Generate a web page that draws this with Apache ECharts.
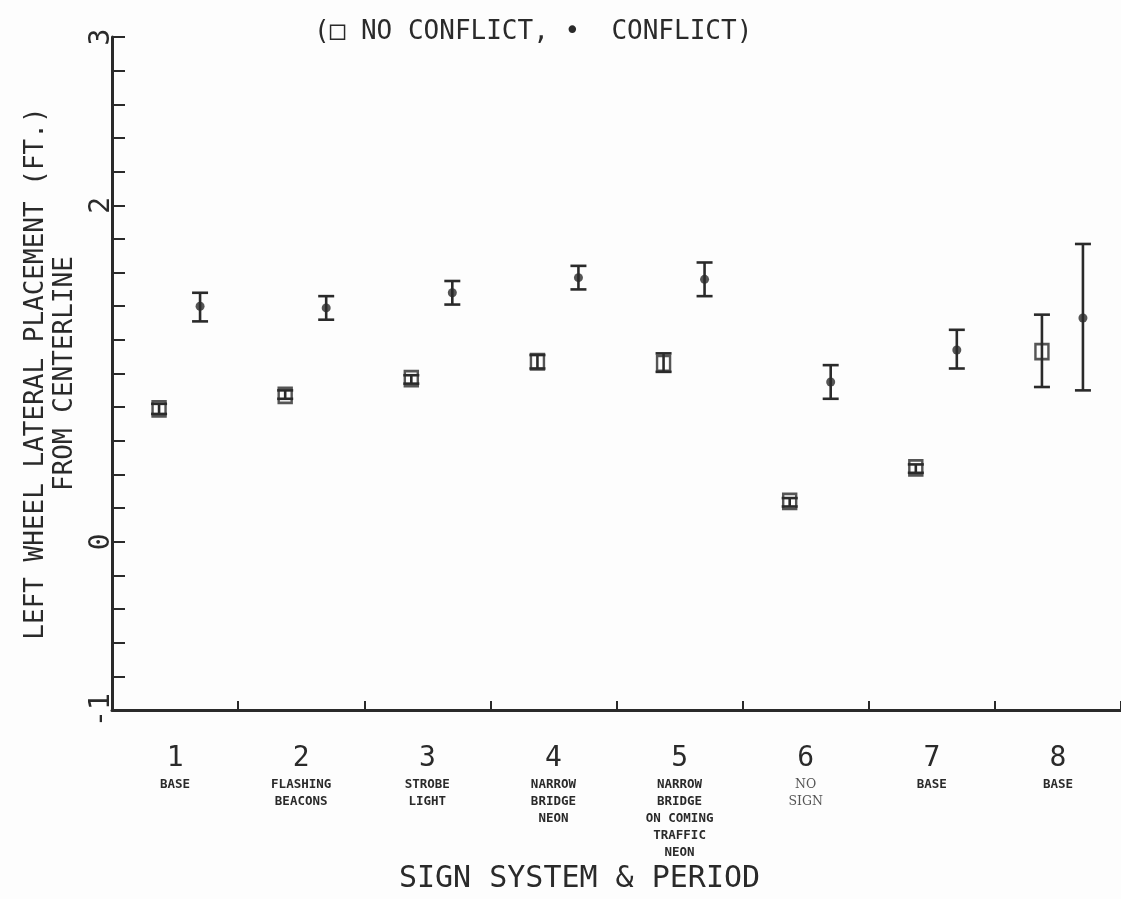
<!DOCTYPE html>
<html>
<head>
<meta charset="utf-8">
<script src="https://cdn.jsdelivr.net/npm/echarts@6/dist/echarts.min.js"></script>
<style>
  html, body { margin: 0; padding: 0; background: #fdfdfd; }
  #chart { width: 1121px; height: 899px; }
</style>
</head>
<body>
<div id="chart"></div>
<script>
// ---- data ----
const categories = ['1', '2', '3', '4', '5', '6', '7', '8'];
const signSystems = [
  'BASE',
  'FLASHING\nBEACONS',
  'STROBE\nLIGHT',
  'NARROW\nBRIDGE\nNEON',
  'NARROW\nBRIDGE\nON COMING\nTRAFFIC\nNEON',
  'NO\nSIGN',
  'BASE',
  'BASE'
];
// No conflict (open squares): mean, low, high (ft)
const noConflictMean = [0.79, 0.87, 0.97, 1.07, 1.06, 0.24, 0.44, 1.13];
const noConflictLow  = [0.76, 0.85, 0.94, 1.03, 1.01, 0.21, 0.41, 0.92];
const noConflictHigh = [0.82, 0.90, 0.99, 1.11, 1.12, 0.26, 0.46, 1.35];
// Conflict (filled dots): mean, low, high (ft)
const conflictMean = [1.40, 1.39, 1.48, 1.57, 1.56, 0.95, 1.14, 1.33];
const conflictLow  = [1.31, 1.32, 1.41, 1.50, 1.46, 0.85, 1.03, 0.90];
const conflictHigh = [1.48, 1.46, 1.55, 1.64, 1.66, 1.05, 1.26, 1.77];
// y tick labels shown on the axis (1 is not labelled in the original)
const yTickLabels = [-1, 0, 2, 3];

const INK = '#2a2a2a';
const MONO = '"DejaVu Sans Mono", "Liberation Mono", monospace';
const SQ_OFF = -16, DOT_OFF = 25;

function errorBarRenderer(offset) {
  return function (params, api) {
    const idx = api.value(0);
    const hi = api.coord([idx, api.value(2)]);
    const lo = api.coord([idx, api.value(1)]);
    const x = hi[0] + offset;
    const cap = 8;
    const style = { stroke: INK, lineWidth: 2.6 };
    return {
      type: 'group',
      children: [
        { type: 'line', shape: { x1: x, y1: hi[1], x2: x, y2: lo[1] }, style: style },
        { type: 'line', shape: { x1: x - cap, y1: hi[1], x2: x + cap, y2: hi[1] }, style: style },
        { type: 'line', shape: { x1: x - cap, y1: lo[1], x2: x + cap, y2: lo[1] }, style: style }
      ]
    };
  };
}

const chart = echarts.init(document.getElementById('chart'), null, { renderer: 'canvas' });

const option = {
  backgroundColor: '#fdfdfd',
  animation: false,
  grid: { left: 112, top: 37, width: 1010, bottom: 180, containLabel: false },
  graphic: [
    {
      type: 'text', left: 314, top: 19,
      style: { text: '(\u25A1 NO CONFLICT, \u2022  CONFLICT)', font: '26px ' + MONO, fill: INK }
    }
  ],
  xAxis: {
    type: 'category',
    data: categories,
    boundaryGap: true,
    name: 'SIGN SYSTEM & PERIOD',
    nameLocation: 'middle',
    nameGap: 152,
    nameTextStyle: { fontFamily: MONO, fontSize: 30, color: INK, padding: [0, 74, 0, 0] },
    axisLine: { onZero: false, lineStyle: { color: INK, width: 3 } },
    axisTick: { show: true, inside: true, length: 9, lineStyle: { color: INK, width: 2 } },
    splitLine: { show: false },
    axisLabel: {
      interval: 0,
      margin: 32,
      formatter: function (value, i) {
        const style = (signSystems[i] === 'NO\nSIGN') ? 'r' : 's';
        const sub = signSystems[i].split('\n').map(l => '{' + style + '|' + l + '}').join('\n');
        return '{n|' + value + '}\n' + sub;
      },
      rich: {
        n: { fontFamily: MONO, fontSize: 28, lineHeight: 34, color: INK, align: 'center' },
        s: { fontFamily: MONO, fontSize: 12.5, fontWeight: 'bold', lineHeight: 17, color: INK, align: 'center' },
        r: { fontFamily: '"DejaVu Serif", "Liberation Serif", serif', fontSize: 12.5, lineHeight: 17, color: '#555', align: 'center' }
      }
    }
  },
  yAxis: {
    type: 'value',
    min: -1,
    max: 3,
    interval: 0.2,
    name: 'LEFT WHEEL LATERAL PLACEMENT (FT.)\nFROM CENTERLINE',
    nameLocation: 'middle',
    nameRotate: 90,
    nameGap: 20,
    nameTextStyle: { fontFamily: MONO, fontSize: 26, lineHeight: 29, color: INK, align: 'center' },
    axisLine: { show: true, lineStyle: { color: INK, width: 3 } },
    axisTick: { show: true, inside: true, length: 13, lineStyle: { color: INK, width: 2 } },
    splitLine: { show: false },
    axisLabel: {
      rotate: 90,
      margin: -4,
      fontFamily: MONO,
      fontSize: 28,
      color: INK,
      formatter: function (v) {
        const r = Math.round(v);
        return (Math.abs(v - r) < 1e-6 && yTickLabels.indexOf(r) >= 0) ? String(r) : '';
      }
    }
  },
  series: [
    {
      name: 'NO CONFLICT error',
      type: 'custom',
      renderItem: errorBarRenderer(SQ_OFF),
      data: categories.map((c, i) => [i, noConflictLow[i], noConflictHigh[i]]),
      z: 3
    },
    {
      name: 'CONFLICT error',
      type: 'custom',
      renderItem: errorBarRenderer(DOT_OFF),
      data: categories.map((c, i) => [i, conflictLow[i], conflictHigh[i]]),
      z: 3
    },
    {
      name: 'NO CONFLICT',
      type: 'scatter',
      data: noConflictMean,
      symbol: 'rect',
      symbolSize: [13, 15],
      symbolOffset: [SQ_OFF, 0],
      itemStyle: { color: 'rgba(0,0,0,0)', borderColor: INK, borderWidth: 2.6 },
      z: 4
    },
    {
      name: 'CONFLICT',
      type: 'scatter',
      data: conflictMean,
      symbol: 'circle',
      symbolSize: 9,
      symbolOffset: [DOT_OFF, 0],
      itemStyle: { color: INK },
      z: 4
    }
  ]
};

chart.setOption(option);
</script>
</body>
</html>
